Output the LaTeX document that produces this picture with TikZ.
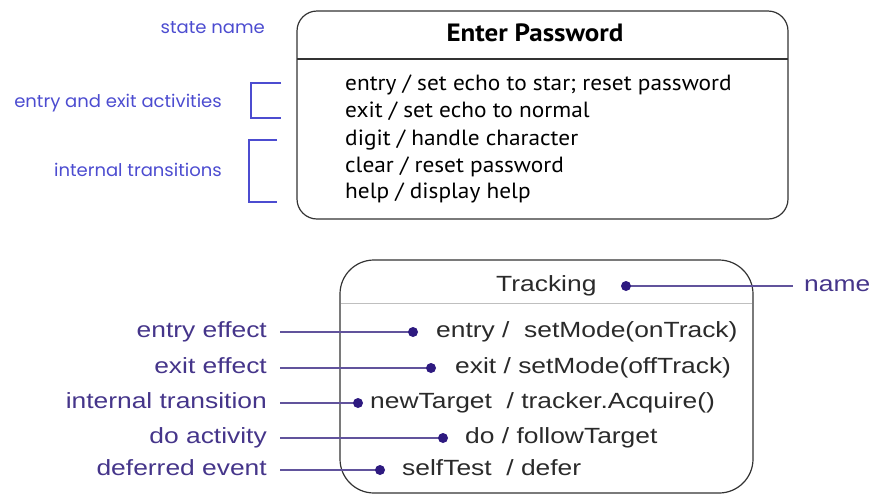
\documentclass[tikz,border=0pt]{standalone}
\usepackage{fontspec}
\setmainfont{Liberation Sans}
\newfontfamily\boxfont[FakeStretch=1.06]{PT Sans}
\newfontfamily\boxfontb[FakeStretch=1.08]{PT Sans Bold}
\newfontfamily\geofont[FakeStretch=1.03]{Poppins}
\newfontfamily\arialw[FakeStretch=1.2]{Liberation Sans}
\definecolor{annblue}{HTML}{4C4CD0}
\definecolor{annpurple}{HTML}{45358A}
\definecolor{dotpurple}{HTML}{2E1A80}
\definecolor{txtgray}{HTML}{2A2A2A}
\begin{document}
\begin{tikzpicture}[x=1pt,y=-1pt,
  geolabel/.style={text=annblue, font=\geofont\fontsize{17.5}{20}\selectfont, inner sep=0pt},
  pwtext/.style={text=black, font=\boxfont\fontsize{22}{26}\selectfont, inner sep=0pt, anchor=west, text height=15pt, text depth=4pt},
  trtext/.style={text=txtgray, font=\arialw\fontsize{22}{26}\selectfont, inner sep=0pt, anchor=west, text height=15pt, text depth=4pt},
  trlabel/.style={text=annpurple, font=\arialw\fontsize{22}{26}\selectfont, inner sep=0pt, anchor=east, text height=15pt, text depth=4pt},
  bracket/.style={draw=annblue, line width=1.5pt},
  pointer/.style={draw=annpurple!85, line width=1.8pt},
  statebox/.style={draw=black!80, line width=1.2pt, inner sep=0pt},
]
\useasboundingbox (0,0) rectangle (893,499);

% ---------- top state ----------
\node[statebox, rounded corners=20pt, minimum width=491pt, minimum height=208pt] (pw) at (542.5,115) {};
\draw[black!80, line width=1.2pt] (297,59) -- (788,59);
\node[font=\boxfontb\fontsize{25}{29}\selectfont, inner sep=0pt] (pwname) at (535,33) {Enter Password};
\node[pwtext] (pw1) at (345,85) {entry / set echo to star; reset password};
\node[pwtext] (pw2) at (345,112) {exit / set echo to normal};
\node[pwtext] (pw3) at (345,140) {digit / handle character};
\node[pwtext] (pw4) at (345,167) {clear / reset password};
\node[pwtext] (pw5) at (345,193) {help / display help};

\node[geolabel, anchor=east] (lstate) at (265,28) {state name};
\node[geolabel, anchor=east] (lentry) at (222,103) {entry and exit activities};
\node[geolabel, anchor=east] (lint) at (222,170) {internal transitions};
\draw[bracket] (281,83) -- (251,83) -- (251,118) -- (281,118);
\draw[bracket] (277,140) -- (249,140) -- (249,202) -- (277,202);

% ---------- bottom state ----------
\node[statebox, rounded corners=34pt, minimum width=413pt, minimum height=233pt] (tr) at (546.5,376.5) {};
\draw[black!25, line width=1pt] (341,303) -- (752,303);
\node[trtext] (trname) at (496,286) {Tracking};
\node[trtext] (t1) at (436,332) {entry /\ \ setMode(onTrack)};
\node[trtext] (t2) at (455,368) {exit / setMode(offTrack)};
\node[trtext] (t3) at (370,403) {newTarget\ \ / tracker.Acquire()};
\node[trtext] (t4) at (465,438) {do / followTarget};
\node[trtext] (t5) at (402,470) {selfTest\ \ / defer};

\coordinate (dn) at (626,286);
\coordinate (d1) at (413,332);
\coordinate (d2) at (431,368);
\coordinate (d3) at (358,403);
\coordinate (d4) at (443,438);
\coordinate (d5) at (380,470);

\node[text=annpurple, font=\arialw\fontsize{22}{26}\selectfont, inner sep=0pt, anchor=west, text height=15pt, text depth=4pt] (lname) at (804,286) {name};
\node[trlabel] (l1) at (267,332) {entry effect};
\node[trlabel] (l2) at (267,368) {exit effect};
\node[trlabel] (l3) at (267,403) {internal transition};
\node[trlabel] (l4) at (267,438) {do activity};
\node[trlabel] (l5) at (267,470) {deferred event};

\draw[pointer] (dn) -- ([xshift=-11pt]lname.west);
\draw[pointer] ([xshift=13pt]l1.east) -- (d1);
\draw[pointer] ([xshift=13pt]l2.east) -- (d2);
\draw[pointer] ([xshift=13pt]l3.east) -- (d3);
\draw[pointer] ([xshift=13pt]l4.east) -- (d4);
\draw[pointer] ([xshift=13pt]l5.east) -- (d5);
\foreach \d in {dn,d1,d2,d3,d4,d5} \fill[dotpurple] (\d) circle (5pt);
\end{tikzpicture}
\end{document}
